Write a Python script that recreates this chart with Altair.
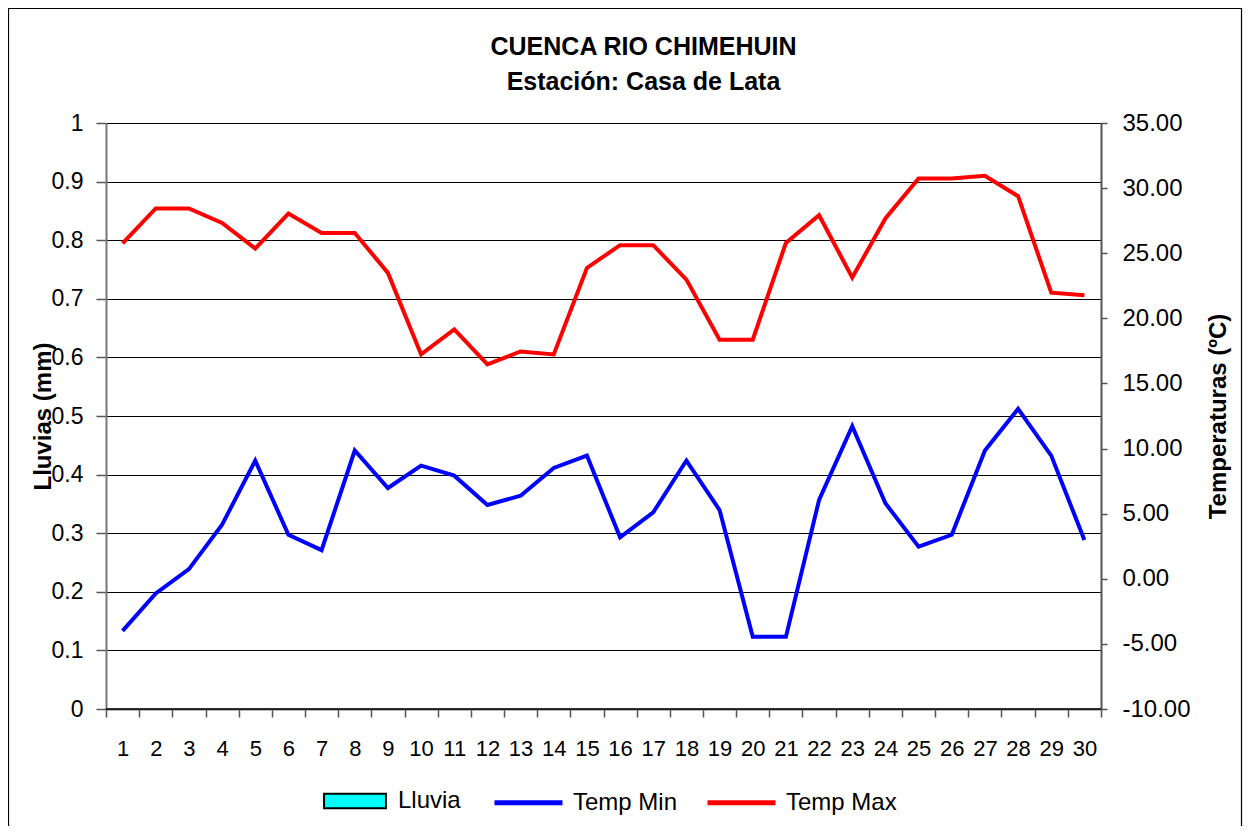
import altair as alt
import pandas as pd

# ---------------- data ----------------
days = list(range(1, 31))
lluvia = [0.0] * 30
temp_min = [-4.00, -1.13, 0.74, 4.15, 9.08, 3.38, 2.20, 9.85, 6.97, 8.69,
            7.92, 5.67, 6.38, 8.51, 9.46, 3.18, 5.10, 9.08, 5.28, -4.46,
            -4.46, 6.05, 11.72, 5.80, 2.46, 3.38, 9.85, 13.05, 9.46, 2.97]
temp_max = [25.75, 28.44, 28.44, 27.33, 25.36, 28.05, 26.56, 26.56, 23.49, 17.23,
            19.15, 16.46, 17.46, 17.23, 23.87, 25.62, 25.62, 22.97, 18.36, 18.36,
            25.79, 27.92, 23.13, 27.67, 30.74, 30.74, 30.95, 29.38, 21.97, 21.77]
rain_series = ["Lluvia"]
rain_colors = ["#00FFFF"]
temp_series = ["Temp Min", "Temp Max"]
temp_colors = ["#0000FF", "#FF0000"]
rain_ticks = [0, 0.1, 0.2, 0.3, 0.4, 0.5, 0.6, 0.7, 0.8, 0.9, 1]
temp_ticks = [-10, -5, 0, 5, 10, 15, 20, 25, 30, 35]
title_lines = ["CUENCA RIO CHIMEHUIN", "Estación: Casa de Lata"]

rain_df = pd.DataFrame({"Dia": days, "Lluvia": lluvia, "Serie": ["Lluvia"] * 30})
temp_df = pd.DataFrame({
    "Dia": days * 2,
    "Serie": ["Temp Min"] * 30 + ["Temp Max"] * 30,
    "Temp": temp_min + temp_max,
})
frame_df = pd.DataFrame({"f": [0]})

FONT = "Liberation Sans"
W, H = 995, 586
PL, PT, PR, PB = 98, 115, 142, 117

xscale = alt.Scale(type="band", paddingInner=0, paddingOuter=0)
xaxis = alt.Axis(title=None, labelAngle=0, tickBand="extent", labelFontSize=22,
                 labelFont=FONT, labelColor="black", tickSize=8, labelPadding=21,
                 domainColor="#777777", domainWidth=2, tickColor="#555555",
                 tickWidth=1.5, grid=False)

frame = alt.Chart(frame_df).mark_rect(filled=False, stroke="black", strokeWidth=1.2).encode(
    x=alt.value(-PL + 0.5), x2=alt.value(W + PR - 1.5),
    y=alt.value(-PT + 0.5), y2=alt.value(H + PB + 40),
)

bars = alt.Chart(rain_df).mark_bar(stroke="black", strokeWidth=1).encode(
    x=alt.X("Dia:O", scale=xscale, axis=xaxis),
    y=alt.Y("Lluvia:Q",
            scale=alt.Scale(domain=[0, 1], nice=False, zero=True),
            axis=alt.Axis(title="Lluvias (mm)", values=rain_ticks, format="~g",
                          grid=True, gridColor="black", gridWidth=1.2,
                          domainColor="#777777", domainWidth=2,
                          tickColor="#555555", tickSize=10, tickWidth=1.5,
                          labelPadding=13, labelFontSize=23, labelFont=FONT,
                          labelColor="black",
                          titleFont=FONT, titleFontSize=24, titleFontWeight="bold",
                          titleColor="black", titleAngle=270, titleX=-63,
                          titleY=H / 2, titleAlign="center", titleBaseline="middle")),
    fill=alt.Fill("Serie:N", scale=alt.Scale(domain=rain_series, range=rain_colors),
                  legend=alt.Legend(
                      title=None, orient="none", legendX=214, legendY=643,
                      direction="horizontal", padding=0, symbolSize=4624,
                      symbolType="M-0.91,-0.21H0.91V0.21H-0.91Z",
                      symbolStrokeColor="black", symbolStrokeWidth=2,
                      labelFontSize=24, labelFont=FONT, labelColor="black",
                      labelOffset=8)),
)

lines = alt.Chart(temp_df).mark_line(strokeWidth=4).encode(
    x=alt.X("Dia:O", scale=xscale, axis=xaxis, bandPosition=0.5),
    y=alt.Y("Temp:Q",
            scale=alt.Scale(domain=[-10, 35], nice=False, zero=False),
            axis=alt.Axis(orient="right", title="Temperaturas (ºC)", values=temp_ticks,
                          labelExpr="(datum.value < 0 ? '-' : '') + format(abs(datum.value), '.2f')",
                          grid=False,
                          domainColor="#555555", domainWidth=2,
                          tickColor="#555555", tickSize=6, tickWidth=1.5,
                          labelPadding=15, labelFontSize=24, labelFont=FONT,
                          labelColor="black",
                          titleFont=FONT, titleFontSize=24, titleFontWeight="bold",
                          titleColor="black", titleAngle=270, titleX=117,
                          titleY=H / 2, titleAlign="center", titleBaseline="middle")),
    color=alt.Color("Serie:N",
                    scale=alt.Scale(domain=temp_series, range=temp_colors),
                    legend=alt.Legend(
                        title=None, orient="none", legendX=386, legendY=643,
                        direction="horizontal", padding=0, symbolSize=4624,
                        symbolType="stroke", symbolStrokeWidth=5,
                        labelFontSize=24, labelFont=FONT, labelColor="black",
                        labelOffset=8, columnPadding=19)),
)

chart = alt.layer(frame, bars, lines).resolve_scale(y="independent").properties(
    width=W, height=H,
    autosize=alt.AutoSizeParams(type="none"),
    padding={"left": PL, "top": PT, "right": PR, "bottom": PB},
    title=alt.TitleParams(text=title_lines, font=FONT, fontSize=25, fontWeight="bold",
                          color="black", lineHeight=35, anchor="middle", dx=40,
                          offset=28, dy=115),
    background="white",
).configure_view(stroke=None)

chart.save("out.html", embed_options={"renderer": "svg", "actions": False})
